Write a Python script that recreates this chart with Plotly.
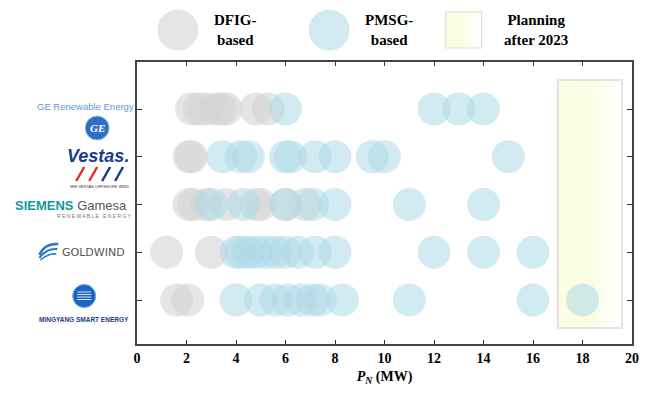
import plotly.graph_objects as go
import numpy as np

# ---------------- data ----------------
manufacturers = ["GE", "Vestas", "Siemens Gamesa", "Goldwind", "Mingyang"]
row_pos = [5, 4, 3, 2, 1]

dfig_ge = [2.2, 2.5, 2.75, 3.2, 3.4, 3.6, 4.8, 5.3]
pmsg_ge = [6.0, 12.0, 13.0, 14.0]
dfig_vestas = [2.1, 2.2]
pmsg_vestas = [3.45, 4.2, 4.5, 6.0, 6.2, 7.2, 8.0, 9.5, 10.0, 15.0]
dfig_sg = [2.1, 2.3, 2.8, 3.6, 4.8, 5.0, 6.0, 6.8]
pmsg_sg = [3.0, 4.3, 6.0, 7.1, 8.0, 11.0, 14.0]
dfig_gw = [1.2, 3.0]
pmsg_gw = [4.0, 4.2, 4.5, 4.8, 5.2, 5.6, 6.0, 6.5, 7.2, 8.0, 12.0, 14.0, 16.0]
dfig_my = [1.6, 2.05]
pmsg_my = [4.0, 5.0, 5.6, 6.1, 6.6, 7.1, 7.4, 8.3, 11.0, 16.0, 18.0]

dfig = [dfig_ge, dfig_vestas, dfig_sg, dfig_gw, dfig_my]
pmsg = [pmsg_ge, pmsg_vestas, pmsg_sg, pmsg_gw, pmsg_my]

planning_range = [17.0, 19.6]
x_ticks = list(range(0, 21, 2))

# ---------------- layout geometry (window pixels) ----------------
OFF = 8                      # default page body margin
WIN_W, WIN_H = 651, 396
W, H = WIN_W - OFF, WIN_H - OFF
L, R, T, B = 137, 634, 62, 344   # plot box in window pixels
def px(x):
    return (x - L) / (R - L)
def py(y):
    return (B - y) / (B - T)

fig = go.Figure()

GRAY = "rgba(211,211,211,0.6)"
BLUE = "rgba(173,216,230,0.55)"

for xs, y in zip(dfig, row_pos):
    fig.add_trace(go.Scatter(x=xs, y=[y] * len(xs), mode="markers",
                             marker=dict(size=33, color=GRAY, line=dict(width=0)),
                             showlegend=False, hoverinfo="skip"))
for xs, y in zip(pmsg, row_pos):
    fig.add_trace(go.Scatter(x=xs, y=[y] * len(xs), mode="markers",
                             marker=dict(size=33, color=BLUE, line=dict(width=0)),
                             showlegend=False, hoverinfo="skip"))

shapes = []
annotations = []

def grad_color(t):
    c0 = np.array([250, 253, 226])
    c1 = np.array([255, 255, 255])
    f = 0 if t < 0.45 else (t - 0.45) / 0.55
    c = c0 + (c1 - c0) * f
    return "rgb(%d,%d,%d)" % tuple(c.astype(int))

# planning region gradient (data x, paper y)
N = 40
x0p, x1p = planning_range
ytop, ybot = py(80), py(328)
for i in range(N):
    a = x0p + (x1p - x0p) * i / N
    b = x0p + (x1p - x0p) * (i + 1) / N
    shapes.append(dict(type="rect", xref="x", yref="paper", x0=a, x1=b + 0.01,
                       y0=ybot, y1=ytop, fillcolor=grad_color((i + 0.5) / N),
                       line=dict(width=0), layer="below"))
shapes.append(dict(type="rect", xref="x", yref="paper", x0=x0p, x1=x1p,
                   y0=ybot, y1=ytop, fillcolor="rgba(0,0,0,0)",
                   line=dict(color="#dcdcdc", width=1.5), layer="below"))

# ---------------- legend ----------------
def circle_px(cx, cy, r, color, line=None):
    shapes.append(dict(type="circle", xref="paper", yref="paper",
                       xsizemode="pixel", ysizemode="pixel",
                       xanchor=px(cx), yanchor=py(cy),
                       x0=-r, x1=r, y0=-r, y1=r, fillcolor=color,
                       line=line or dict(width=0)))

circle_px(178, 30, 20.5, "rgb(229,229,229)")
circle_px(330, 30, 20.5, "rgb(210,233,241)")
N2 = 20
for i in range(N2):
    a = 447 + 36 * i / N2
    b = 447 + 36 * (i + 1) / N2
    shapes.append(dict(type="rect", xref="paper", yref="paper",
                       x0=px(a), x1=px(b + 0.3), y0=py(48), y1=py(12),
                       fillcolor=grad_color((i + 0.5) / N2), line=dict(width=0)))
shapes.append(dict(type="rect", xref="paper", yref="paper",
                   x0=px(447), x1=px(483), y0=py(48), y1=py(12),
                   line=dict(color="#dcdcdc", width=1.2)))

LEG_FONT = dict(family="Liberation Serif, Times New Roman, serif", size=15, color="black")
for txt, cx in [("<b>DFIG-<br>based</b>", 236), ("<b>PMSG-<br>based</b>", 390),
                ("<b>Planning<br>after 2023</b>", 538)]:
    annotations.append(dict(text=txt, xref="paper", yref="paper", x=px(cx), y=py(30),
                            xanchor="center", yanchor="middle", showarrow=False,
                            font=LEG_FONT, align="center"))

# ---------------- logos ----------------
SANS = "Liberation Sans, Arial, sans-serif"
def ann(text, x, y, size, color, xanchor="center", family=SANS):
    annotations.append(dict(text=text, xref="paper", yref="paper", x=px(x), y=py(y),
                            xanchor=xanchor, yanchor="middle", showarrow=False,
                            font=dict(family=family, size=size, color=color)))

# GE
ann("GE Renewable Energy", 85, 107, 9.5, "#5f9bd8")
circle_px(97, 128, 12, "#2f6fc4", line=dict(color="#9cc0ea", width=1))
ann("<i><b>GE</b></i>", 97, 128, 11, "white", family="Liberation Serif, serif")
# Vestas
ann("<b><i>Vestas.</i></b>", 131, 156, 18, "#1b3b8f", xanchor="right")
# MHI Vestas mark drawn as slanted strokes
for i, col in enumerate(["#e0302a", "#e0302a", "#1b3b8f", "#1b3b8f"]):
    x0s = 76 + i * 13
    shapes.append(dict(type="line", xref="paper", yref="paper",
                       x0=px(x0s), y0=py(181), x1=px(x0s + 8), y1=py(167),
                       line=dict(color=col, width=2.5)))
ann("MHI VESTAS OFFSHORE WIND", 99, 186, 4, "#333")
# Siemens Gamesa
ann("<b><span style='color:#0f9a96'>SIEMENS</span></b> <span style='color:#555'>Gamesa</span>",
    129, 205, 13, "#555", xanchor="right")
ann("R E N E W A B L E   E N E R G Y", 94, 216, 5, "#777")
# Goldwind swoosh
for (a, b, c, d, e, f, w) in [(39, 255, 44, 243, 58, 244, 2.5),
                              (39, 258, 46, 248, 57, 249, 2),
                              (40, 260, 48, 253, 56, 254, 1.5)]:
    shapes.append(dict(type="path", xref="paper", yref="paper",
                       path="M %f,%f Q %f,%f %f,%f" % (px(a), py(b), px(c), py(d), px(e), py(f)),
                       line=dict(color="#2b78c2", width=w)))
ann("GOLDWIND", 127, 252, 11, "#555", xanchor="right", family="DejaVu Sans, sans-serif")
# Mingyang
circle_px(84, 296, 11.5, "#1b64c0", line=dict(color="#6fa8e8", width=1))
for dy in (-4, -1.5, 1, 3.5):
    shapes.append(dict(type="line", xref="paper", yref="paper",
                       x0=px(77), x1=px(91), y0=py(296 + dy), y1=py(296 + dy),
                       line=dict(color="rgba(255,255,255,0.8)", width=1)))
ann("<b>MINGYANG SMART ENERGY</b>", 84, 319, 6.5, "#1b3b8f")

# ---------------- axes ----------------
TICK_FONT = dict(family="Liberation Serif, Times New Roman, serif", size=14, color="black")
fig.update_layout(
    width=W, height=H,
    margin=dict(l=L - OFF, r=WIN_W - R, t=T - OFF, b=WIN_H - B, pad=0),
    paper_bgcolor="white", plot_bgcolor="white",
    shapes=shapes, annotations=annotations,
    showlegend=False,
    xaxis=dict(range=[0, 20], tickvals=x_ticks, ticktext=["<b>%d</b>" % v for v in x_ticks],
               ticks="inside", ticklen=4, tickwidth=1.2, tickcolor="#333",
               showline=True, linecolor="#444", linewidth=1.6, mirror="ticks",
               showgrid=False, zeroline=False, tickfont=TICK_FONT,
               title=dict(text="<b><i>P</i><sub><i>N</i></sub> (MW)</b>",
                          font=dict(family="Liberation Serif, Times New Roman, serif", size=14, color="black"),
                          standoff=7)),
    yaxis=dict(range=[1 - 44 / 47.75, 5 + 47 / 47.75], tickvals=row_pos,
               showticklabels=False,
               ticks="inside", ticklen=5, tickwidth=1.2, tickcolor="#333",
               showline=True, linecolor="#444", linewidth=1.6, mirror="ticks",
               showgrid=False, zeroline=False),
)

fig.write_html("out.html")
